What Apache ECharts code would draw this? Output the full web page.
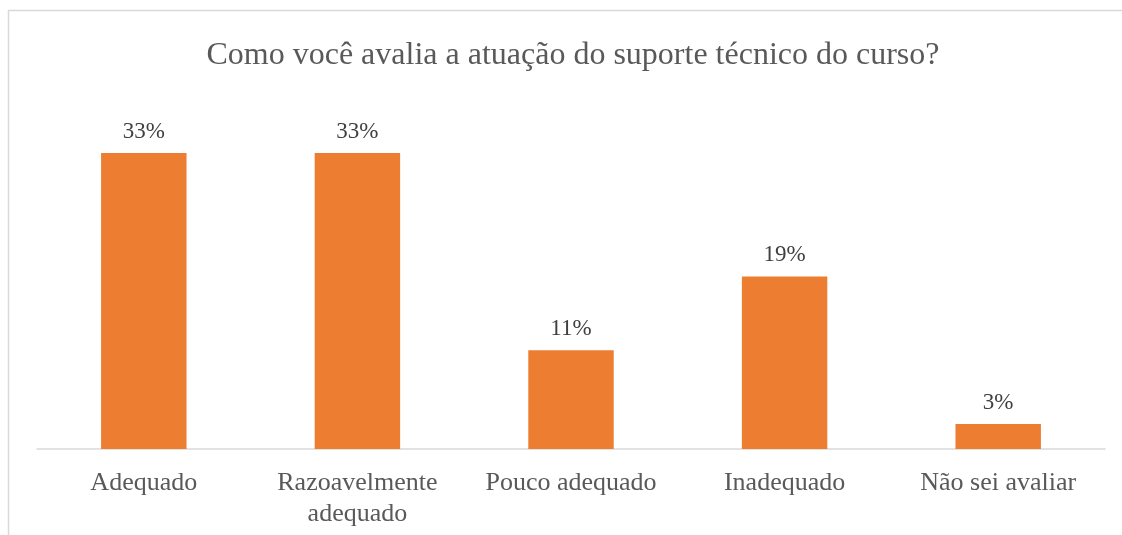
<!DOCTYPE html>
<html>
<head>
<meta charset="utf-8">
<script src="https://cdn.jsdelivr.net/npm/echarts@6/dist/echarts.min.js"></script>
<style>
  html, body { margin: 0; padding: 0; background: #fff; }
  #chart { width: 1122px; height: 535px; }
</style>
</head>
<body>
<div id="chart"></div>
<script>
const categories = ['Adequado', 'Razoavelmente\nadequado', 'Pouco adequado', 'Inadequado', 'Não sei avaliar'];
const percentages = [33.3, 33.3, 11.1, 19.4, 2.8];
const chartTitle = 'Como você avalia a atuação do suporte técnico do curso?';

const serif = '"Liberation Serif", "Times New Roman", serif';
const myChart = echarts.init(document.getElementById('chart'));

const option = {
    animation: false,
    // light frame around the chart area
    graphic: [{
        type: 'rect',
        shape: { x: 8.5, y: 10.5, width: 1300, height: 700 },
        style: { fill: 'none', stroke: '#d9d9d9', lineWidth: 1.5 },
        silent: true
    }],
    title: {
        text: chartTitle,
        left: 568,
        textAlign: 'center',
        top: 35,
        textStyle: {
            fontFamily: serif,
            fontSize: 32,
            fontWeight: 'normal',
            color: '#595959'
        }
    },
    grid: {
        left: 37,
        right: 17,
        top: 138,
        bottom: 86,
        containLabel: false
    },
    xAxis: {
        type: 'category',
        data: categories,
        axisTick: { show: false },
        axisLine: { lineStyle: { color: '#d9d9d9', width: 1.5 } },
        axisLabel: {
            fontFamily: serif,
            fontSize: 26,
            color: '#595959',
            margin: 19,
            lineHeight: 31,
            interval: 0
        }
    },
    yAxis: {
        type: 'value',
        min: 0,
        max: 35,
        show: false
    },
    series: [{
        type: 'bar',
        data: percentages,
        barCategoryGap: '60%',
        itemStyle: { color: '#ED7D31' },
        label: {
            show: true,
            position: 'top',
            distance: 10,
            fontFamily: serif,
            fontSize: 23,
            color: '#404040',
            formatter: p => Math.round(p.value) + '%'
        }
    }]
};
myChart.setOption(option);
</script>
</body>
</html>
